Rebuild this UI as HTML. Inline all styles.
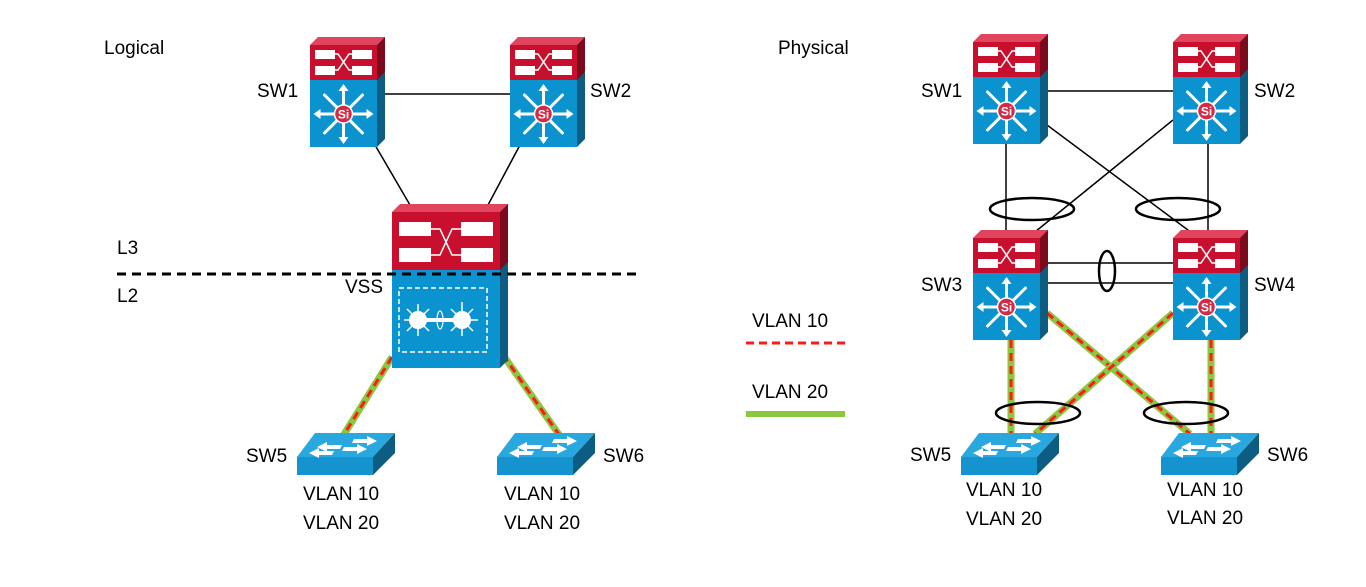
<!DOCTYPE html>
<html><head><meta charset="utf-8"><style>
html,body{margin:0;padding:0;background:#fff;}
svg{display:block;font-family:"Liberation Sans",Arial,sans-serif;}
</style></head><body>
<svg width="1366" height="587" viewBox="0 0 1366 587" xmlns="http://www.w3.org/2000/svg">
<defs>
  <g id="ml">
    <polygon points="0,8 8,0 75,0 67,8" fill="#e0455d"/>
    <polygon points="67,8 75,0 75,102 67,110" fill="#0d5d82"/>
    <polygon points="67,8 75,0 75,35 67,43" fill="#7a0a1c"/>
    <rect x="0" y="8" width="67" height="35" fill="#c8102e"/>
    <rect x="0" y="43" width="67" height="67" fill="#0b93cf"/>
    <rect x="5" y="13" width="20" height="9" fill="#fff"/>
    <rect x="5" y="29" width="20" height="9" fill="#fff"/>
    <rect x="42" y="13" width="20" height="9" fill="#fff"/>
    <rect x="42" y="29" width="20" height="9" fill="#fff"/>
    <path d="M25,17 H28 L39,33 H42 M25,33 H28 L39,17 H42" stroke="#fff" stroke-width="1.5" fill="none"/>
    <g transform="translate(33.5,77)" stroke="#fff" stroke-width="3" stroke-linecap="round">
      <line x1="0" y1="-26" x2="0" y2="26"/><line x1="-26" y1="0" x2="26" y2="0"/>
      <line x1="-19" y1="-19" x2="19" y2="19"/><line x1="-19" y1="19" x2="19" y2="-19"/>
    </g>
    <g transform="translate(33.5,77)" fill="#fff">
      <polygon points="0,-30 -5,-23 5,-23"/><polygon points="0,30 -5,23 5,23"/>
      <polygon points="-30,0 -23,-5 -23,5"/><polygon points="30,0 23,-5 23,5"/>
    </g>
    <circle cx="33.5" cy="77" r="9" fill="#d42a45" stroke="#fff" stroke-width="1.5"/>
    <text x="33.5" y="81.5" font-size="12" fill="#fff" text-anchor="middle" font-weight="bold">Si</text>
  </g>
  <g id="acc">
    <polygon points="18,0 98,0 76,24 0,24" fill="#29a8e0"/>
    <rect x="0" y="24" width="76" height="18" fill="#1493cf"/>
    <polygon points="76,24 98,0 98,20 76,42" fill="#0d5d82"/>
    <g fill="#fff">
      <polygon points="20,14 30,9 30,12 45,12 43,16 30,16 30,19"/>
      <polygon points="80,8 70,13 70,10 55,10 57,6 70,6 70,3"/>
      <polygon points="12,20 22,15 22,18 37,18 35,22 22,22 22,25"/>
      <polygon points="70,16 60,21 60,18 45,18 47,14 60,14 60,11"/>
    </g>
  </g>
</defs>

<g font-size="19">
<text x="104" y="54">Logical</text>
<line x1="385" y1="94" x2="510" y2="94" stroke="#000" stroke-width="1.5"/>
<line x1="375" y1="145" x2="410" y2="205" stroke="#000" stroke-width="1.5"/>
<line x1="520" y1="145" x2="488" y2="205" stroke="#000" stroke-width="1.5"/>
<g>
  <line x1="392" y1="357" x2="343" y2="436" stroke="#8dc63f" stroke-width="7"/>
  <line x1="392" y1="357" x2="343" y2="436" stroke="#ff1a1a" stroke-width="3" stroke-dasharray="8,5"/>
  <line x1="503" y1="355" x2="560" y2="436" stroke="#8dc63f" stroke-width="7"/>
  <line x1="503" y1="355" x2="560" y2="436" stroke="#ff1a1a" stroke-width="3" stroke-dasharray="8,5"/>
</g>
<use href="#ml" x="310" y="37"/>
<use href="#ml" x="510" y="37"/>
<text x="257" y="97">SW1</text>
<text x="590" y="97">SW2</text>

<g>
  <polygon points="392,212 400,204 508,204 500,212" fill="#e0455d"/>
  <polygon points="500,212 508,204 508,360 500,368" fill="#0d5d82"/>
  <polygon points="500,212 508,204 508,262 500,270" fill="#7a0a1c"/>
  <rect x="392" y="212" width="108" height="58" fill="#c8102e"/>
  <rect x="392" y="270" width="108" height="98" fill="#0b93cf"/>
  <rect x="399" y="222" width="32" height="14" fill="#fff"/>
  <rect x="399" y="248" width="32" height="14" fill="#fff"/>
  <rect x="461" y="222" width="32" height="14" fill="#fff"/>
  <rect x="461" y="248" width="32" height="14" fill="#fff"/>
  <path d="M431,229 H440 L452,255 H461 M431,255 H440 L452,229 H461" stroke="#fff" stroke-width="1.5" fill="none"/>
  <rect x="399" y="288" width="88" height="64" fill="none" stroke="#fff" stroke-width="1.5" stroke-dasharray="5,3"/>
  <line x1="418" y1="320" x2="460" y2="320" stroke="#fff" stroke-width="4"/>
  <circle cx="418" cy="320" r="9" fill="#fff"/>
  <circle cx="462" cy="320" r="9" fill="#fff"/>
  <ellipse cx="440" cy="320" rx="3" ry="9" fill="none" stroke="#fff" stroke-width="1.2"/>
  <g stroke="#fff" stroke-width="1.5">
    <line x1="418" y1="320" x2="418" y2="304"/><line x1="418" y1="320" x2="404" y2="320"/><line x1="418" y1="320" x2="418" y2="336"/>
    <line x1="418" y1="320" x2="407" y2="309"/><line x1="418" y1="320" x2="407" y2="331"/><line x1="418" y1="320" x2="429" y2="309"/><line x1="418" y1="320" x2="429" y2="331"/>
    <line x1="462" y1="320" x2="462" y2="302"/><line x1="462" y1="320" x2="478" y2="320"/><line x1="462" y1="320" x2="462" y2="336"/>
    <line x1="462" y1="320" x2="473" y2="309"/><line x1="462" y1="320" x2="473" y2="331"/><line x1="462" y1="320" x2="451" y2="309"/><line x1="462" y1="320" x2="451" y2="331"/>
  </g>
</g>
<line x1="117" y1="274" x2="637" y2="274" stroke="#000" stroke-width="3" stroke-dasharray="9,6"/>
<text x="117" y="254">L3</text>
<text x="117" y="302">L2</text>
<text x="345" y="293">VSS</text>

<use href="#acc" x="297" y="433"/>
<use href="#acc" x="497" y="433"/>
<text x="246" y="462">SW5</text>
<text x="603" y="462">SW6</text>
<text x="303" y="500">VLAN 10</text>
<text x="303" y="529">VLAN 20</text>
<text x="504" y="500">VLAN 10</text>
<text x="504" y="529">VLAN 20</text>

<text x="752" y="327">VLAN 10</text>
<line x1="746" y1="343" x2="845" y2="343" stroke="#ff1a1a" stroke-width="3" stroke-dasharray="8,5"/>
<text x="752" y="398">VLAN 20</text>
<line x1="746" y1="414" x2="845" y2="414" stroke="#8dc63f" stroke-width="6"/>

<text x="778" y="54">Physical</text>
<g stroke="#000" stroke-width="1.5">
  <line x1="1047" y1="91" x2="1173" y2="91"/>
  <line x1="1006" y1="144" x2="1006" y2="232"/>
  <line x1="1208" y1="144" x2="1208" y2="232"/>
  <line x1="1047" y1="125" x2="1196" y2="236"/>
  <line x1="1173" y1="120" x2="1030" y2="236"/>
  <line x1="1047" y1="263" x2="1173" y2="263"/>
  <line x1="1047" y1="283" x2="1173" y2="283"/>
</g>
<g fill="none" stroke="#000" stroke-width="2.5">
  <ellipse cx="1032" cy="209" rx="42" ry="11"/>
  <ellipse cx="1178" cy="209" rx="42" ry="11"/>
  <ellipse cx="1107" cy="271" rx="8" ry="20"/>
</g>
<g>
  <line x1="1011" y1="340" x2="1011" y2="434" stroke="#8dc63f" stroke-width="7"/>
  <line x1="1011" y1="340" x2="1011" y2="434" stroke="#ff1a1a" stroke-width="3" stroke-dasharray="8,5"/>
  <line x1="1211" y1="340" x2="1211" y2="434" stroke="#8dc63f" stroke-width="7"/>
  <line x1="1211" y1="340" x2="1211" y2="434" stroke="#ff1a1a" stroke-width="3" stroke-dasharray="8,5"/>
  <line x1="1047" y1="313" x2="1190" y2="434" stroke="#8dc63f" stroke-width="7"/>
  <line x1="1047" y1="313" x2="1190" y2="434" stroke="#ff1a1a" stroke-width="3" stroke-dasharray="8,5"/>
  <line x1="1173" y1="313" x2="1035" y2="434" stroke="#8dc63f" stroke-width="7"/>
  <line x1="1173" y1="313" x2="1035" y2="434" stroke="#ff1a1a" stroke-width="3" stroke-dasharray="8,5"/>
</g>
<g fill="none" stroke="#000" stroke-width="2.5">
  <ellipse cx="1038" cy="413" rx="42" ry="11"/>
  <ellipse cx="1186" cy="413" rx="42" ry="11"/>
</g>
<use href="#ml" x="973" y="34"/>
<use href="#ml" x="1173" y="34"/>
<use href="#ml" x="973" y="230"/>
<use href="#ml" x="1173" y="230"/>
<text x="921" y="97">SW1</text>
<text x="1254" y="97">SW2</text>
<text x="921" y="291">SW3</text>
<text x="1254" y="291">SW4</text>
<use href="#acc" x="961" y="433"/>
<use href="#acc" x="1161" y="433"/>
<text x="910" y="461">SW5</text>
<text x="1267" y="461">SW6</text>
<text x="966" y="496">VLAN 10</text>
<text x="966" y="525">VLAN 20</text>
<text x="1167" y="496">VLAN 10</text>
<text x="1167" y="524">VLAN 20</text>
</g>
</svg>
</body></html>
